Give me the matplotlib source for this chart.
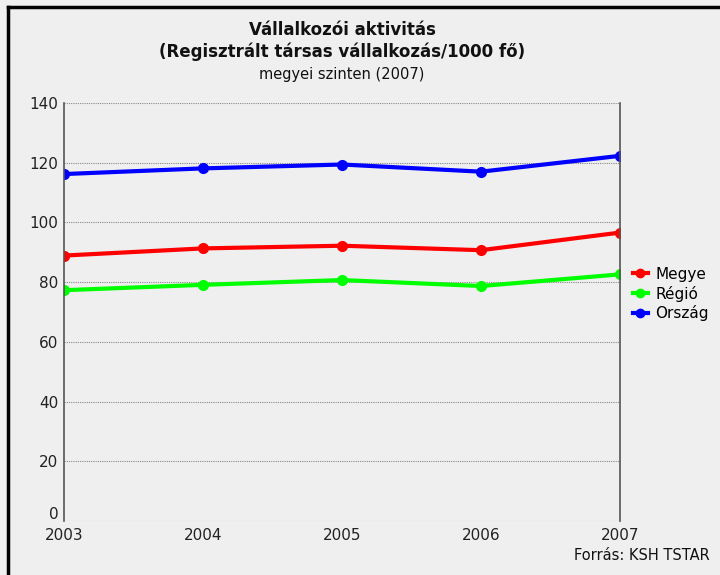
import matplotlib.pyplot as plt
import matplotlib.transforms as mtransforms
from matplotlib.lines import Line2D

# data
years = [2003, 2004, 2005, 2006, 2007]
megye = [88.9, 91.3, 92.2, 90.7, 96.6]
regio = [77.3, 79.1, 80.7, 78.7, 82.6]
orszag = [116.2, 118.1, 119.4, 117.0, 122.3]
series_names = ['Megye', 'Régió', 'Ország']
series_colors = ['#ff0000', '#00ff00', '#0000ff']
y_ticks = [0, 20, 40, 60, 80, 100, 120, 140]

bg = '#efefef'
fig = plt.figure(figsize=(7.2, 5.75), dpi=100, facecolor=bg)
ax = fig.add_axes([64 / 720, 1 - 521 / 575, 556 / 720, 418 / 575])
ax.set_facecolor(bg)

for vals, name, col in zip([megye, regio, orszag], series_names, series_colors):
    ax.plot(years, vals, color=col, linewidth=3, marker='o', markersize=7,
            label=name, solid_capstyle='round')

ax.set_xlim(years[0], years[-1])
ax.set_ylim(0, 140)
ax.set_xticks(years)
ax.set_yticks(y_ticks)
ax.tick_params(length=0, labelsize=11, colors='#222222', pad=4)
ax.tick_params(axis='x', pad=5)
ax.grid(axis='y', color='#888888', linestyle=(0, (1, 1)), linewidth=0.8)
for s in ['top', 'bottom']:
    ax.spines[s].set_visible(False)
for s in ['left', 'right']:
    ax.spines[s].set_color('#555555')
    ax.spines[s].set_linewidth(1.2)

# the "0" label sits a bit higher, just above the first year label
fig.canvas.draw()
zero_lbl = ax.get_yticklabels()[0]
zero_lbl.set_transform(zero_lbl.get_transform() +
                       mtransforms.ScaledTranslation(0, 6 / 72, fig.dpi_scale_trans))

# legend
handles = [Line2D([0], [0], color=c, linewidth=3, marker='o', markersize=6)
           for c in series_colors]
fig.legend(handles, series_names, loc='center left',
           bbox_to_anchor=(625 / 720, 1 - 294 / 575), frameon=False,
           fontsize=11, handlelength=1.0, handletextpad=0.5,
           labelspacing=0.25, borderpad=0)

# titles
fig.text(342 / 720, 1 - 30 / 575, 'Vállalkozói aktivitás', ha='center',
         va='center', fontsize=12, fontweight='bold', color='#111111')
fig.text(342 / 720, 1 - 52 / 575, '(Regisztrált társas vállalkozás/1000 fő)',
         ha='center', va='center', fontsize=12, fontweight='bold', color='#111111')
fig.text(342 / 720, 1 - 74 / 575, 'megyei szinten (2007)', ha='center',
         va='center', fontsize=10.5, color='#111111')
fig.text(710 / 720, 1 - 556 / 575, 'Forrás: KSH TSTAR', ha='right',
         va='center', fontsize=10.5, color='#111111')

# outer frame (left and top edges)
fig.add_artist(Line2D([8 / 720, 8 / 720], [0, 1 - 7 / 575], color='black',
                      linewidth=2.5))
fig.add_artist(Line2D([8 / 720, 1], [1 - 7 / 575, 1 - 7 / 575], color='black',
                      linewidth=2.5))

fig.savefig('out.png', dpi=100, facecolor=bg)
